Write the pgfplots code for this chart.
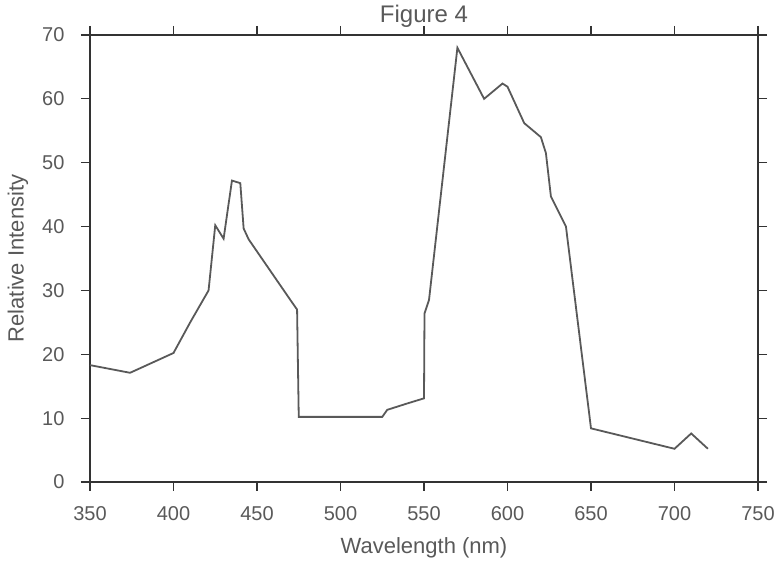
\documentclass[border=0pt]{standalone}
\usepackage{pgfplots}
\pgfplotsset{compat=1.18}
\usepackage{fontspec}
\setmainfont{Liberation Sans}
\definecolor{txt}{gray}{0.35}
\definecolor{ln}{gray}{0.35}
\definecolor{ax}{gray}{0.2}
\begin{document}
\begin{tikzpicture}
\begin{axis}[
  name=ax,
  scale only axis,
  width=668pt, height=447pt,
  xmin=350, xmax=750, ymin=0, ymax=70,
  xtick={350,400,...,750},
  ytick={0,10,...,70},
  tick align=outside,
  major tick length=9pt,
  tick style={ax, line width=1.2pt},
  axis line style={ax, line width=2.2pt},
  /pgf/number format/assume math mode=true,
  ticklabel style={font=\fontsize{20}{22}\selectfont, text=txt},
  xticklabel style={yshift=-12pt},
  yticklabel style={xshift=-13pt},
  title={Figure 4},
  title style={font=\fontsize{24}{26}\selectfont, text=txt, at={(0.5,1)}, anchor=base, yshift=6pt},
  xlabel={Wavelength (nm)},
  ylabel={Relative Intensity},
  label style={font=\fontsize{22}{24}\selectfont, text=txt},
  xlabel style={at={(axis description cs:0.5,-0.148)}, anchor=center},
  ylabel style={at={(axis description cs:-0.108,0.5)}, anchor=center},
]
\addplot[ln, line width=1.8pt] coordinates {
  (350,18.3) (374,17.1) (400,20.2) (410,25) (421,30)
  (425,40.2) (430,38.1) (435,47.2) (440,46.8) (442,39.7)
  (445,38) (470,28.5) (474,27) (475,10.2) (525,10.2)
  (528,11.3) (540,12.3) (550,13.1) (550.3,26.4) (553,28.5)
  (570,68) (586,60) (597,62.4) (600,61.9) (610,56.2)
  (620,54) (623,51.5) (626,44.7) (635,40) (650,8.4)
  (700,5.2) (710,7.6) (720,5.2)
};
\end{axis}
\path ([xshift=-90pt,yshift=-83pt]ax.south west) rectangle ([xshift=22pt,yshift=35pt]ax.north east);
\end{tikzpicture}
\end{document}
